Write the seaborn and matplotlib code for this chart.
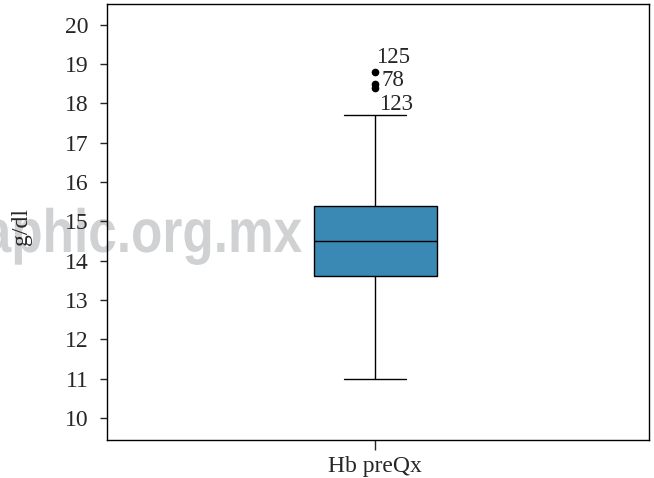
import pandas as pd
import matplotlib.pyplot as plt
import seaborn as sns
from matplotlib import patheffects
from matplotlib.transforms import Affine2D

# Hemoglobin values (g/dl)
group_label = "Hb preQx"
hb_values = [11.0, 12.1, 12.6, 13.0, 13.3, 13.6, 13.8, 14.0, 14.2, 14.4,
             14.5, 14.7, 14.9, 15.1, 15.3, 15.4, 16.2, 17.7, 18.4, 18.5, 18.8]
# outlier cases and their values
outlier_ids = ["125", "78", "123"]
outlier_vals = [18.8, 18.5, 18.4]
label_offsets = [(0.8, 10.5), (4.5, 2.5), (3, -12)]  # points


class Squeeze(patheffects.AbstractPathEffect):
    """narrow the glyphs horizontally around x0 (display px)"""
    def __init__(self, sx, x0):
        super().__init__()
        self.sx = sx
        self.x0 = x0

    def draw_path(self, renderer, gc, tpath, affine, rgbFace=None):
        t = affine + Affine2D().translate(-self.x0, 0).scale(self.sx, 1).translate(self.x0, 0)
        renderer.draw_path(gc, tpath, t, rgbFace)


df = pd.DataFrame({"grupo": [group_label] * len(hb_values), "g/dl": hb_values})

sns.set_style("ticks")
plt.rcParams["font.family"] = ["Liberation Serif", "DejaVu Serif"]

fig = plt.figure(figsize=(6.54, 4.78), dpi=100)
ax = fig.add_axes([0.1636, 0.0795, 0.8288, 0.9121])
ax.patch.set_facecolor("none")

sns.boxplot(data=df, x="grupo", y="g/dl", ax=ax, width=0.227, color="#3a89b5",
            saturation=1, linecolor="black", linewidth=1.0, fliersize=4.5,
            flierprops=dict(marker="o", markerfacecolor="black", markeredgecolor="black"))

for cid, val, off in zip(outlier_ids, outlier_vals, label_offsets):
    ax.annotate(cid, xy=(0, val), xytext=off, textcoords="offset points",
                ha="left", va="center", fontsize=16.5)

ax.set_xlim(-0.4945, 0.5055)
ax.set_ylim(9.44, 20.53)
ax.set_yticks(range(10, 21))
ax.tick_params(axis="y", labelsize=17, length=5, width=1, pad=8)
ax.tick_params(axis="x", labelsize=17, length=7.5, width=1, pad=4)
ax.set_xlabel("")
ax.set_ylabel("g/dl", fontsize=17)
ax.yaxis.set_label_coords(-0.138, 0.49)
for s in ax.spines.values():
    s.set_visible(True)
    s.set_linewidth(1.0)
    s.set_color("black")

# watermark behind the axes
wm_x = 302
fig.text(wm_x / 654, (478 - 252) / 478, "aphic.org.mx", ha="right", va="baseline",
         fontsize=44, fontweight="bold", family="Liberation Sans",
         color="#d0d1d3", zorder=-1, path_effects=[Squeeze(0.84, wm_x)])

fig.savefig("out.png", dpi=100)
